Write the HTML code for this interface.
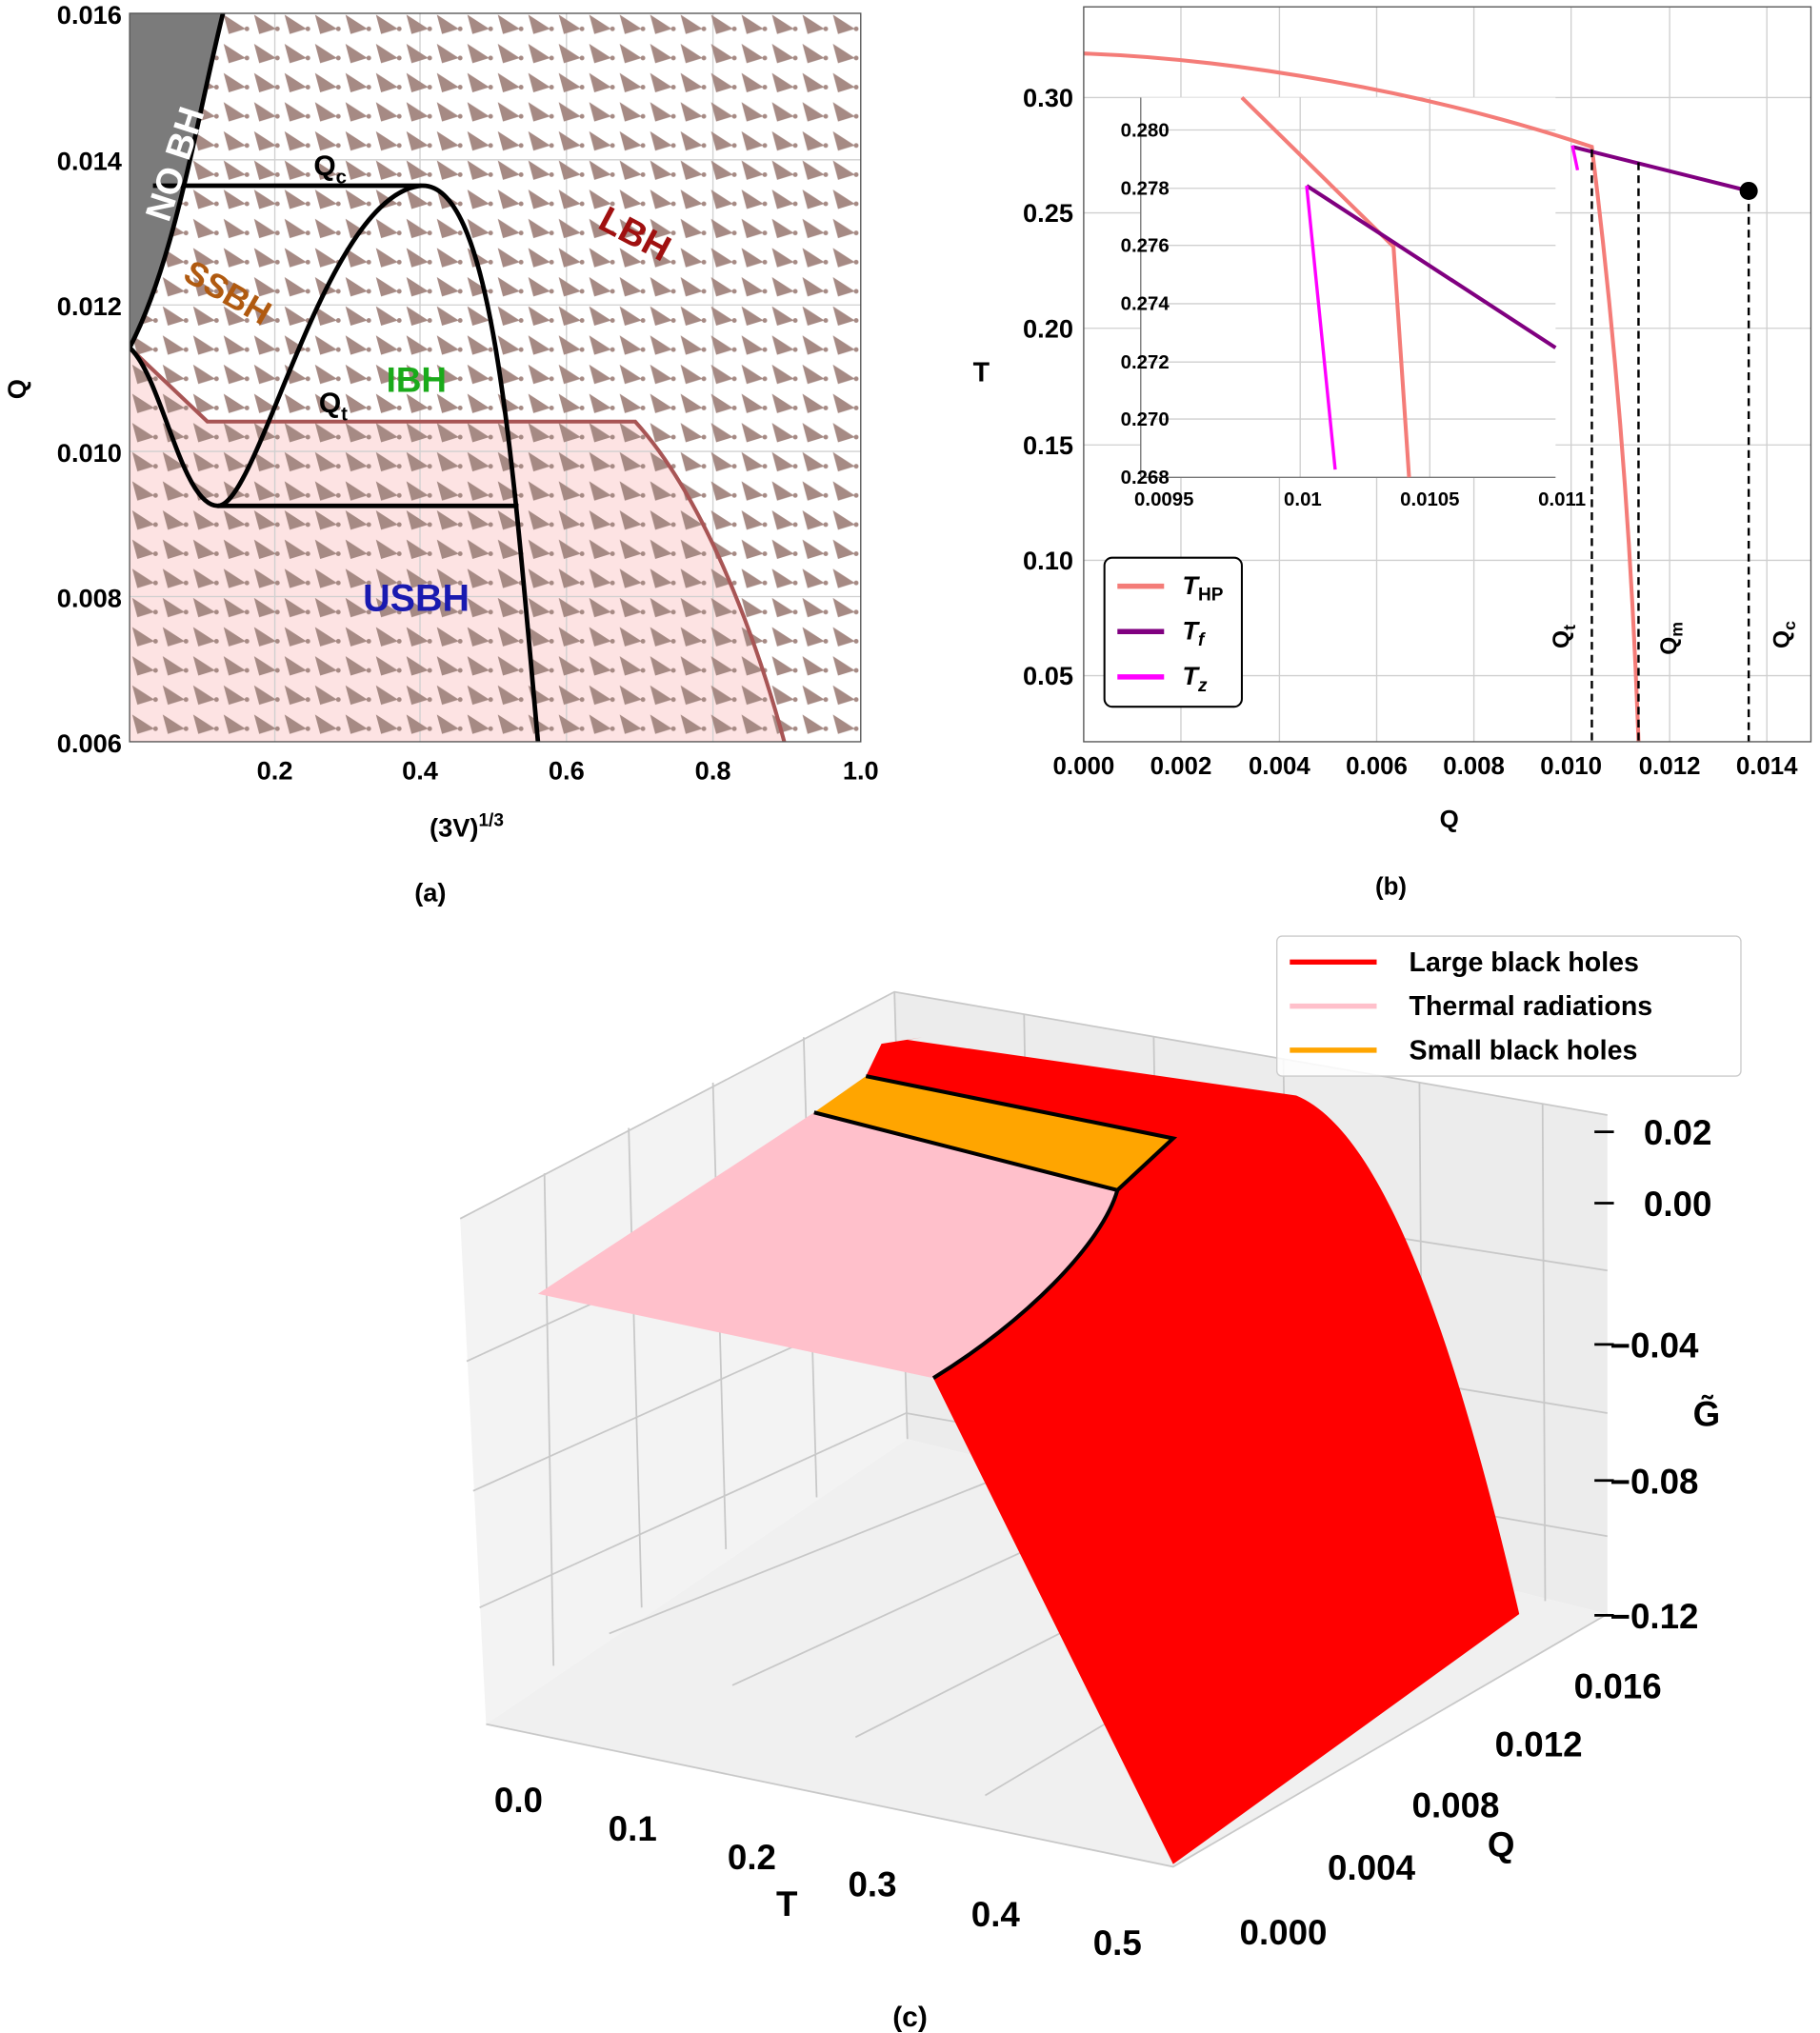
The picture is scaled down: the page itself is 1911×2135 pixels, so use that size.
<!DOCTYPE html>
<html><head><meta charset="utf-8"><style>
html,body{margin:0;padding:0;background:#fff;}
svg{display:block;}
text{font-family:"Liberation Sans",sans-serif;font-weight:bold;fill:#000;}
</style></head><body>
<svg width="1911" height="2135" viewBox="0 0 1404 1568" xmlns="http://www.w3.org/2000/svg">
<defs>
<pattern id="arr" x="100" y="10" width="23.5" height="22.5" patternUnits="userSpaceOnUse">
<path d="M2,1 L6,16 L19,12 Z" fill="#a68a84"/><circle cx="20" cy="12" r="1.8" fill="#a68a84"/>
</pattern>
<clipPath id="ca"><rect x="100" y="10" width="564" height="562"/></clipPath>
<clipPath id="cb"><rect x="836" y="5" width="561" height="567"/></clipPath>
</defs>

<!-- ===== Panel (a) ===== -->
<g clip-path="url(#ca)">
<rect x="100" y="10" width="564" height="562" fill="#fff"/>
<path d="M100,268 L160,325 L490,325 C540,380 580,480 605,572 L100,572 Z" fill="#fde3e3"/>
<g stroke="#d0d0d0" stroke-width="1">
<line x1="212" y1="10" x2="212" y2="572"/><line x1="324" y1="10" x2="324" y2="572"/><line x1="437" y1="10" x2="437" y2="572"/><line x1="550" y1="10" x2="550" y2="572"/>
<line x1="100" y1="123" x2="664" y2="123"/><line x1="100" y1="235" x2="664" y2="235"/><line x1="100" y1="348" x2="664" y2="348"/><line x1="100" y1="460" x2="664" y2="460"/>
</g>
<rect x="100" y="10" width="564" height="562" fill="url(#arr)"/>
<path d="M100,10 L172,10 C150,100 135,200 100,268 Z" fill="#7b7b7b"/>
<path d="M100,268 L160,325 L490,325 C540,380 580,480 605,572" fill="none" stroke="#a85555" stroke-width="3"/>
<path d="M172,10 C150,100 135,200 100,268" fill="none" stroke="#000" stroke-width="3.5"/>
<path d="M118,143 L325,143" stroke="#000" stroke-width="3.5"/>
<path d="M100,268 C125,290 140,390 168,390 C200,390 250,150 325,143 C380,140 395,350 415,572" fill="none" stroke="#000" stroke-width="3.5"/>
<path d="M168,390 L400,390" stroke="#000" stroke-width="3.5"/>
</g>
<rect x="100" y="10" width="564" height="562" fill="none" stroke="#555" stroke-width="1"/>
<text x="0" y="0" transform="translate(130,172) rotate(-72)" font-size="28" style="fill:#fff">NO BH</text>
<text x="242" y="135" font-size="22">Q<tspan font-size="15" dy="6">c</tspan></text>
<text x="246" y="318" font-size="22">Q<tspan font-size="15" dy="6">t</tspan></text>
<text x="0" y="0" transform="translate(140,215) rotate(30)" font-size="26" style="fill:#b05a10">SSBH</text>
<text x="0" y="0" transform="translate(460,175) rotate(28)" font-size="28" style="fill:#a01010">LBH</text>
<text x="298" y="302" font-size="27" style="fill:#1aaa1a">IBH</text>
<text x="280" y="471" font-size="29" style="fill:#1a1ab0">USBH</text>
<g font-size="20" text-anchor="end">
<text x="94" y="18">0.016</text><text x="94" y="131">0.014</text><text x="94" y="243">0.012</text><text x="94" y="356">0.010</text><text x="94" y="468">0.008</text><text x="94" y="580">0.006</text>
</g>
<g font-size="20" text-anchor="middle">
<text x="212" y="601">0.2</text><text x="324" y="601">0.4</text><text x="437" y="601">0.6</text><text x="550" y="601">0.8</text><text x="664" y="601">1.0</text>
<text x="360" y="645">(3V)<tspan font-size="14" dy="-8">1/3</tspan></text>
<text x="332" y="695">(a)</text>
</g>
<text x="0" y="0" transform="translate(20,300) rotate(-90)" font-size="20" text-anchor="middle">Q</text>

<!-- ===== Panel (b) ===== -->
<rect x="836" y="5" width="561" height="567" fill="#fff"/>
<g stroke="#cfcfcf" stroke-width="1">
<line x1="911" y1="5" x2="911" y2="572"/><line x1="987" y1="5" x2="987" y2="572"/><line x1="1062" y1="5" x2="1062" y2="572"/><line x1="1137" y1="5" x2="1137" y2="572"/><line x1="1212" y1="5" x2="1212" y2="572"/><line x1="1288" y1="5" x2="1288" y2="572"/><line x1="1363" y1="5" x2="1363" y2="572"/>
<line x1="836" y1="75" x2="1397" y2="75"/><line x1="836" y1="164" x2="1397" y2="164"/><line x1="836" y1="253" x2="1397" y2="253"/><line x1="836" y1="343" x2="1397" y2="343"/><line x1="836" y1="432" x2="1397" y2="432"/><line x1="836" y1="521" x2="1397" y2="521"/>
</g>
<!-- inset -->
<rect x="880" y="75" width="320" height="293" fill="#fff"/>
<g stroke="#cfcfcf" stroke-width="1">
<line x1="1003" y1="75" x2="1003" y2="368"/><line x1="1103" y1="75" x2="1103" y2="368"/>
<line x1="880" y1="100" x2="1200" y2="100"/><line x1="880" y1="145" x2="1200" y2="145"/><line x1="880" y1="189" x2="1200" y2="189"/><line x1="880" y1="234" x2="1200" y2="234"/><line x1="880" y1="279" x2="1200" y2="279"/><line x1="880" y1="323" x2="1200" y2="323"/>
</g>
<line x1="880" y1="75" x2="880" y2="368" stroke="#777"/><line x1="880" y1="368" x2="1200" y2="368" stroke="#777"/>
<path d="M958,75 L1075,190 L1087,368" fill="none" stroke="#f47c78" stroke-width="3"/>
<path d="M1008,143 L1200,268" stroke="#800080" stroke-width="3"/>
<path d="M1008,143 L1030,362" stroke="#ff00ff" stroke-width="2.5"/>
<g font-size="15" text-anchor="end">
<text x="902" y="105">0.280</text><text x="902" y="150">0.278</text><text x="902" y="194">0.276</text><text x="902" y="239">0.274</text><text x="902" y="284">0.272</text><text x="902" y="328">0.270</text><text x="902" y="373">0.268</text>
</g>
<g font-size="15" text-anchor="middle">
<text x="898" y="390">0.0095</text><text x="1005" y="390">0.01</text><text x="1103" y="390">0.0105</text><text x="1205" y="390">0.011</text>
</g>
<g clip-path="url(#cb)">
<path d="M836,41 C950,45 1100,70 1228,113 C1245,250 1258,400 1264,572" fill="none" stroke="#f47c78" stroke-width="3"/>
<path d="M1213,113 L1349,147" stroke="#800080" stroke-width="3"/>
<path d="M1213,112 L1217,131" stroke="#ff00ff" stroke-width="2.5"/>
<g stroke="#000" stroke-width="1.8" stroke-dasharray="6,4">
<line x1="1228" y1="115" x2="1228" y2="572"/><line x1="1264" y1="125" x2="1264" y2="572"/><line x1="1349" y1="147" x2="1349" y2="572"/>
</g>
<circle cx="1349" cy="147" r="7" fill="#000"/>
</g>
<rect x="836" y="5" width="561" height="567" fill="none" stroke="#555"/>
<text x="0" y="0" transform="translate(1210,500) rotate(-90)" font-size="18">Q<tspan font-size="13" dy="5">t</tspan></text>
<text x="0" y="0" transform="translate(1293,505) rotate(-90)" font-size="18">Q<tspan font-size="13" dy="5">m</tspan></text>
<text x="0" y="0" transform="translate(1380,500) rotate(-90)" font-size="18">Q<tspan font-size="13" dy="5">c</tspan></text>
<!-- legend -->
<rect x="852" y="430" width="106" height="115" rx="6" fill="#fff" stroke="#000" stroke-width="1.5"/>
<line x1="862" y1="452" x2="898" y2="452" stroke="#f47c78" stroke-width="4"/>
<line x1="862" y1="487" x2="898" y2="487" stroke="#800080" stroke-width="4"/>
<line x1="862" y1="522" x2="898" y2="522" stroke="#ff00ff" stroke-width="4"/>
<text x="912" y="458" font-size="20" font-style="italic">T<tspan font-size="14" dy="5" font-style="normal">HP</tspan></text>
<text x="912" y="493" font-size="20" font-style="italic">T<tspan font-size="14" dy="5">f</tspan></text>
<text x="912" y="528" font-size="20" font-style="italic">T<tspan font-size="14" dy="5">z</tspan></text>
<g font-size="20" text-anchor="end">
<text x="828" y="82">0.30</text><text x="828" y="171">0.25</text><text x="828" y="260">0.20</text><text x="828" y="350">0.15</text><text x="828" y="439">0.10</text><text x="828" y="528">0.05</text>
</g>
<g font-size="19" text-anchor="middle">
<text x="836" y="597">0.000</text><text x="911" y="597">0.002</text><text x="987" y="597">0.004</text><text x="1062" y="597">0.006</text><text x="1137" y="597">0.008</text><text x="1212" y="597">0.010</text><text x="1288" y="597">0.012</text><text x="1363" y="597">0.014</text>
<text x="1118" y="638">Q</text><text x="1073" y="690">(b)</text>
</g>
<text x="757" y="294" font-size="21" text-anchor="middle">T</text>

<!-- ===== Panel (c) ===== -->
<g>
<polygon points="355,940 690,765 700,1110 375,1330" fill="#f3f3f3"/>
<polygon points="690,765 1240,860 1240,1245 700,1110" fill="#ececec"/>
<polygon points="375,1330 700,1110 1240,1245 905,1440" fill="#f0f0f0"/>
<g stroke="#c8c8c8" stroke-width="1.3" fill="none">
<path d="M355,940 L690,765 L1240,860"/>
<path d="M690,765 L700,1110"/>
<path d="M420,905 L427,1285 M485,870 L495,1240 M550,835 L560,1195 M620,800 L630,1155"/>
<path d="M790,782 L796,1135 M890,800 L896,1160 M990,816 L996,1185 M1095,835 L1098,1210 M1190,851 L1192,1235"/>
<path d="M360,1050 L697,895 L1240,980 M365,1150 L698,1000 L1240,1090 M370,1240 L699,1090 L1240,1185"/>
<path d="M470,1260 L790,1132 M565,1300 L880,1155 M660,1340 L975,1180 M760,1385 L1070,1200"/>
<path d="M375,1330 L905,1440 L1240,1245"/>
</g>
<path d="M668,830 L680,805 L712,800 L700,802 L1000,845 C1060,870 1115,1000 1172,1245 L905,1438 L720,1063 C790,1020 850,960 862,918 L905,878 Z" fill="#ff0000"/>
<polygon points="628,858 668,830 905,878 862,918" fill="#ffa500"/>
<path d="M415,998 L628,858 L862,918 C850,960 790,1020 720,1063 Z" fill="#ffc0cb"/>
<g stroke="#000" stroke-width="3" fill="none">
<path d="M668,830 L905,878 L862,918 C850,960 790,1020 720,1063"/>
<path d="M628,858 L862,918"/>
</g>
<g stroke="#000" stroke-width="2">
<line x1="1230" y1="873" x2="1245" y2="873"/><line x1="1230" y1="928" x2="1245" y2="928"/><line x1="1230" y1="1037" x2="1245" y2="1037"/><line x1="1230" y1="1142" x2="1245" y2="1142"/><line x1="1230" y1="1246" x2="1245" y2="1246"/>
</g>
<g font-size="27" text-anchor="start">
<text x="1268" y="883">0.02</text><text x="1268" y="938">0.00</text><text x="1242" y="1047">−0.04</text><text x="1242" y="1152">−0.08</text><text x="1242" y="1256">−0.12</text>
<text x="1306" y="1100">G̃</text>
</g>
<g font-size="27" text-anchor="middle">
<text x="1248" y="1310">0.016</text><text x="1187" y="1355">0.012</text><text x="1123" y="1402">0.008</text><text x="1058" y="1450">0.004</text><text x="990" y="1500">0.000</text>
<text x="1158" y="1432">Q</text>
<text x="400" y="1398">0.0</text><text x="488" y="1420">0.1</text><text x="580" y="1442">0.2</text><text x="673" y="1463">0.3</text><text x="768" y="1486">0.4</text><text x="862" y="1508">0.5</text>
<text x="607" y="1478">T</text>
<text x="702" y="1563" font-size="22">(c)</text>
</g>
<rect x="985" y="722" width="358" height="108" rx="4" fill="#fff" fill-opacity="0.85" stroke="#ccc"/>
<line x1="995" y1="742" x2="1062" y2="742" stroke="#ff0000" stroke-width="4"/>
<line x1="995" y1="776" x2="1062" y2="776" stroke="#ffc0cb" stroke-width="4"/>
<line x1="995" y1="810" x2="1062" y2="810" stroke="#ffa500" stroke-width="4"/>
<g font-size="21"><text x="1087" y="749">Large black holes</text><text x="1087" y="783">Thermal radiations</text><text x="1087" y="817">Small black holes</text></g>
</g>
</svg>
</body></html>
